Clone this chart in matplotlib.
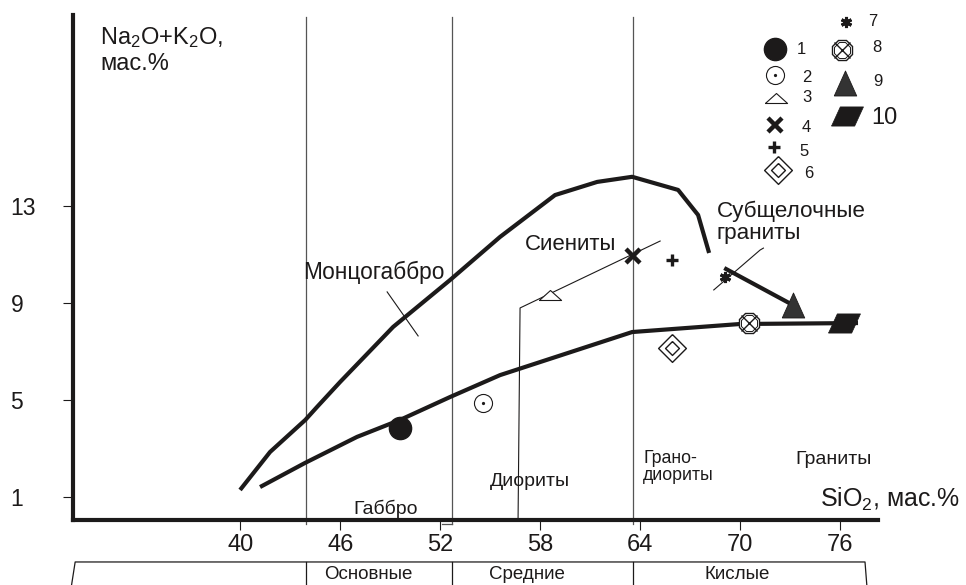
import numpy as np
import matplotlib
matplotlib.use("Agg")
import matplotlib.pyplot as plt
from matplotlib.path import Path

plt.rcParams['font.family'] = ['Liberation Sans', 'DejaVu Sans']
plt.rcParams['mathtext.fontset'] = 'custom'
plt.rcParams['mathtext.rm'] = 'Liberation Sans'
plt.rcParams['mathtext.it'] = 'Liberation Sans:italic'

ink = '#1c1a1a'
grey = '#555555'

# --- data (SiO2, Na2O+K2O, wt.%) ---
upper_sio2 = [39.98, 41.78, 43.90, 44.60, 45.99, 49.17, 52.59, 55.59, 58.89, 61.42, 63.52, 66.28, 67.48, 68.14]
upper_alk = [1.31, 2.87, 4.19, 4.72, 5.75, 8.01, 9.94, 11.71, 13.43, 13.97, 14.18, 13.64, 12.61, 11.05]

lower_sio2 = [41.18, 43.88, 47.00, 49.59, 52.59, 55.59, 63.52, 69.99, 77.08]
lower_alk = [1.43, 2.42, 3.49, 4.19, 5.13, 6.03, 7.80, 8.13, 8.17]

subalk_sio2 = [69.16, 73.17]
subalk_alk = [10.39, 8.91]

syenite_sio2 = [56.67, 56.79, 65.20]
syenite_alk = [0.075, 8.79, 11.54]

monzo_sio2 = [48.81, 50.67]
monzo_alk = [9.45, 7.64]

gran_tick_sio2 = [68.42, 71.20, 71.40]
gran_tick_alk = [9.53, 11.17, 11.25]

class_bounds = [43.94, 52.71, 63.58]

# samples: legend number -> (SiO2, Na2O+K2O)
samples = {
    1: (49.59, 3.86),
    2: (54.57, 4.88),
    3: (58.59, 9.32),
    4: (63.58, 10.93),
    5: (65.92, 10.76),
    6: (65.92, 7.14),
    7: (69.10, 10.06),
    8: (70.54, 8.16),
    9: (73.17, 8.91),
    10: (76.25, 8.17),
}

xticks = [40, 46, 52, 58, 64, 70, 76]
yticks = [1, 5, 9, 13]

rock_names = [
    ('Монцогаббро', 43.76, 10.27, 16.3),
    ('Сиениты', 57.10, 11.38, 16),
    ('Субщелочные\nграниты', 68.60, 12.32, 16.2),
    ('Диориты', 54.99, 1.64, 14),
    ('Грано-\nдиориты', 64.18, 2.25, 12.8),
    ('Граниты', 73.30, 2.58, 14),
    ('Габбро', 46.76, 0.53, 14),
]

groups = [('Основные', 47.65), ('Средние', 57.2), ('Кислые', 69.85)]

tri_flat = Path([(-1, -0.45), (1, -0.45), (0, 0.45), (-1, -0.45)])
tri_up = Path([(-0.9, -1), (0.9, -1), (0, 1), (-0.9, -1)])
diamond = Path([(0, 1), (1, 0), (0, -1), (-1, 0), (0, 1)])
parallelogram = Path([(-1, -0.6), (0.45, -0.6), (1, 0.6), (-0.45, 0.6), (-1, -0.6)])


def draw_marker(ax, k, x, y, **kw):
    t = dict(clip_on=False, linestyle='none', zorder=6)
    t.update(kw)
    if k == 1:
        ax.plot(x, y, marker='o', ms=16, mfc=ink, mec=ink, **t)
    elif k == 2:
        ax.plot(x, y, marker='o', ms=13, mfc='white', mec=ink, mew=0.8, **t)
        ax.plot(x, y, marker='o', ms=1.3, mfc=ink, mec=ink, **t)
    elif k == 3:
        ax.plot(x, y, marker=tri_flat, ms=16, mfc='white', mec=ink, mew=0.8, **t)
    elif k == 4:
        ax.plot(x, y, marker='x', ms=10, mec=ink, mew=3.2, **t)
    elif k == 5:
        ax.plot(x, y, marker='+', ms=9, mec=ink, mew=2.4, **t)
    elif k == 6:
        ax.plot(x, y, marker=diamond, ms=20, mfc='white', mec=ink, mew=1.0, **t)
        ax.plot(x, y, marker=diamond, ms=10, mfc='white', mec=ink, mew=1.0, **t)
    elif k == 7:
        ax.plot(x, y, marker=(6, 2, 0), ms=8, mec=ink, mew=2.2, **t)
    elif k == 8:
        ax.plot(x, y, marker='8', ms=16, mfc='white', mec=ink, mew=1.0, **t)
        ax.plot(x, y, marker='8', ms=13, mfc='none', mec=ink, mew=0.7, **t)
        ax.plot(x, y, marker='x', ms=11, mec=ink, mew=1.0, **t)
    elif k == 9:
        ax.plot(x, y, marker=tri_up, ms=18, mfc='#333333', mec=ink, mew=0.6, **t)
    elif k == 10:
        ax.plot(x, y, marker=parallelogram, ms=23, mfc=ink, mec=ink, mew=0.5, **t)


fig = plt.figure(figsize=(9.66, 5.85), dpi=100)
ax = fig.add_axes([73 / 966, 1 - 520 / 585, 805 / 966, 505 / 585])
ax.set_xlim(29.95, 78.28)
ax.set_ylim(0.075, 20.83)

for s in ['top', 'right']:
    ax.spines[s].set_visible(False)
for s in ['left', 'bottom']:
    ax.spines[s].set_linewidth(3)
    ax.spines[s].set_color(ink)
    ax.spines[s].set_zorder(7)

ax.set_xticks(xticks)
ax.set_yticks(yticks)
ax.tick_params(axis='x', direction='out', length=7, width=0.8, colors=ink, labelsize=17, pad=3)
ax.tick_params(axis='y', direction='out', length=7, width=0.8, colors=ink, labelsize=16.5, pad=38)
for lab in ax.get_yticklabels():
    lab.set_horizontalalignment('left')

# class boundaries
for xb in class_bounds:
    ax.plot([xb, xb], [20.75, -0.09], color=grey, lw=0.9, clip_on=False, zorder=1)
ax.plot([52.1, class_bounds[1]], [-0.09, -0.09], color=grey, lw=0.9, clip_on=False)

# lower box with rock groups
box_top, box_bot = -1.65, -2.7
ax.plot([29.84, 30.08, 77.50, 77.62], [box_bot, box_top, box_top, box_bot],
        color=ink, lw=0.9, clip_on=False)
for xb in class_bounds:
    ax.plot([xb, xb], [box_top, box_bot], color=ink, lw=0.9, clip_on=False)
for name, xc in groups:
    ax.text(xc, -2.33, name, fontsize=13.5, ha='center', va='baseline', color=ink, clip_on=False)

# field boundaries
ax.plot(upper_sio2, upper_alk, color=ink, lw=3, solid_capstyle='butt', zorder=3)
ax.plot(lower_sio2, lower_alk, color=ink, lw=3, solid_capstyle='butt', zorder=3)
ax.plot(subalk_sio2, subalk_alk, color=ink, lw=3, zorder=3)
ax.plot(syenite_sio2, syenite_alk, color=ink, lw=0.8, zorder=2)
ax.plot(monzo_sio2, monzo_alk, color=ink, lw=0.8, zorder=2)
ax.plot(gran_tick_sio2, gran_tick_alk, color=ink, lw=0.8, zorder=2)

for name, xt, yt, fs in rock_names:
    ax.text(xt, yt, name, fontsize=fs, ha='left', va='center', color=ink, linespacing=1.05)

for k, (xs, ys) in samples.items():
    draw_marker(ax, k, xs, ys)

# legend
legend_pos = {
    1: (775, 49, 797, 49), 2: (775, 75, 802, 77), 3: (776, 98, 802, 97),
    4: (775, 125, 802, 127), 5: (774, 147, 799, 151), 6: (778, 170, 804, 173),
    7: (846, 22, 868, 22), 8: (842, 50, 872, 48), 9: (845, 83, 873, 81),
    10: (847, 116, 871, 118),
}
for k, (mx, my, tx, ty) in legend_pos.items():
    draw_marker(ax, k, mx / 966, 1 - my / 585, transform=fig.transFigure)
    fig.text(tx / 966, 1 - ty / 585, str(k), fontsize=17 if k == 10 else 12,
             ha='left', va='center', color=ink)

fig.text(100 / 966, 1 - 38 / 585, r'Na$_2$O+K$_2$O,', fontsize=17, ha='left', va='center', color=ink)
fig.text(100 / 966, 1 - 64 / 585, 'мас.%', fontsize=17, ha='left', va='center', color=ink)
fig.text(820 / 966, 1 - 499 / 585, r'SiO$_2$, мас.%', fontsize=18, ha='left', va='center', color=ink)

fig.savefig('out.png', dpi=100)
